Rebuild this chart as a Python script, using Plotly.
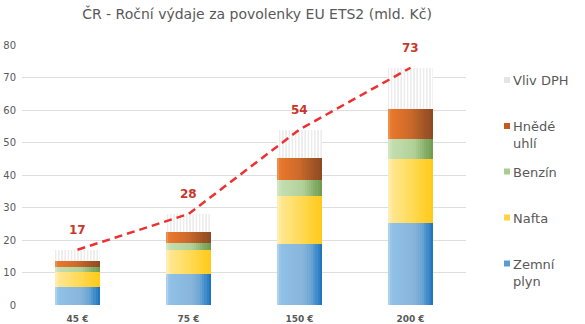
import plotly.graph_objects as go

# Data (mld. Kč) per allowance price
categories = ["45 €", "75 €", "150 €", "200 €"]
zemni_plyn = [5.6, 9.4, 18.8, 25.1]
nafta = [4.6, 7.5, 14.8, 19.8]
benzin = [1.4, 2.3, 4.8, 6.2]
hnede_uhli = [2.0, 3.4, 6.7, 9.1]
vliv_dph = [3.4, 5.4, 8.9, 12.8]

y_ticks = [0, 10, 20, 30, 40, 50, 60, 70, 80]

# Horizontal gradient stops (position, colour) for each fuel segment
gradients = {
    "Zemní plyn": [(0.0, "#b8d7f1"), (0.08, "#92c1e8"), (0.6, "#86b4da"), (0.78, "#6aa5d6"), (1.0, "#1872bd")],
    "Nafta": [(0.0, "#fff1bd"), (0.1, "#ffe690"), (0.55, "#ffda55"), (1.0, "#ffc919")],
    "Benzín": [(0.0, "#d6e8ca"), (0.1, "#c3deaf"), (0.6, "#b1d098"), (1.0, "#6d9a4c")],
    "Hnědé uhlí": [(0.0, "#f09a5a"), (0.08, "#e8772c"), (0.5, "#cc6a2a"), (1.0, "#8b4a22")],
}
legend_colors = {
    "Zemní plyn": "#5b9bd5",
    "Nafta": "#ffd23f",
    "Benzín": "#a9cd8f",
    "Hnědé uhlí": "#c55a1c",
}


def hex_to_rgb(h):
    h = h.lstrip("#")
    return tuple(int(h[i:i + 2], 16) for i in (0, 2, 4))


def gradient_color(stops, t):
    for (p0, c0), (p1, c1) in zip(stops, stops[1:]):
        if p0 <= t <= p1:
            f = (t - p0) / (p1 - p0) if p1 > p0 else 0
            a, b = hex_to_rgb(c0), hex_to_rgb(c1)
            r = [round(a[i] + (b[i] - a[i]) * f) for i in range(3)]
            return "rgb({},{},{})".format(*r)
    return stops[-1][1]


BAR_W = 0.4
SLICES = 22
slice_w = BAR_W / SLICES

fig = go.Figure()

series = [
    ("Zemní plyn", zemni_plyn),
    ("Nafta", nafta),
    ("Benzín", benzin),
    ("Hnědé uhlí", hnede_uhli),
]

base = [0.0] * len(categories)
for name, values in series:
    xs, ys, bases, cols = [], [], [], []
    for i, v in enumerate(values):
        for k in range(SLICES):
            t = (k + 0.5) / SLICES
            xs.append(i - BAR_W / 2 + (k + 0.5) * slice_w)
            ys.append(v)
            bases.append(base[i])
            cols.append(gradient_color(gradients[name], t))
    fig.add_trace(go.Bar(
        x=xs, y=ys, base=bases, width=slice_w * 1.15, name=name,
        marker=dict(color=cols, line=dict(width=0)),
        showlegend=False, hoverinfo="skip",
    ))
    base = [b + v for b, v in zip(base, values)]

subtotal = base[:]
totals = [s + d for s, d in zip(subtotal, vliv_dph)]

# VAT impact: thin vertical hatching on top of the stack
fig.add_trace(go.Bar(
    x=list(range(len(categories))), y=vliv_dph, base=subtotal, width=BAR_W,
    name="Vliv DPH",
    marker=dict(color="white", line=dict(width=0),
                pattern=dict(shape="|", fgcolor="#c9c9c9", bgcolor="white",
                             size=3.2, solidity=0.35)),
    showlegend=False,
))

# Dashed total line
fig.add_trace(go.Scatter(
    x=list(range(len(categories))), y=totals, mode="lines",
    line=dict(color="#ee3030", width=2.5, dash="8px,5px"),
    showlegend=False,
))

annotations = []
for i, tot in enumerate(totals):
    annotations.append(dict(
        x=i, y=tot, xref="x", yref="y", text=f"<b>{round(tot)}</b>",
        showarrow=False, yshift=20,
        font=dict(family="DejaVu Sans", size=12, color="#c8372d"),
    ))

# Legend drawn at the right edge
plot_left, plot_right, plot_top, plot_bottom = 22, 466, 45, 305


def px_x(px):
    return (px - plot_left) / (plot_right - plot_left)


def px_y(py):
    return (plot_bottom - py) / (plot_bottom - plot_top)


legend_items = [
    ("Vliv DPH", "#e4e4e4", 80),
    ("Hnědé<br>uhlí", legend_colors["Hnědé uhlí"], 126),
    ("Benzín", legend_colors["Benzín"], 171.5),
    ("Nafta", legend_colors["Nafta"], 217.5),
    ("Zemní<br>plyn", legend_colors["Zemní plyn"], 263.5),
]
shapes = []
for label, color, cy in legend_items:
    shapes.append(dict(
        type="rect", xref="paper", yref="paper",
        x0=px_x(504), x1=px_x(510), y0=px_y(cy + 3), y1=px_y(cy - 3),
        fillcolor=color, line=dict(width=0),
    ))
    annotations.append(dict(
        x=px_x(511), y=px_y(cy - 9), xref="paper", yref="paper",
        xanchor="left", yanchor="top", align="left", showarrow=False,
        text=label, font=dict(family="DejaVu Sans", size=13, color="#595959"),
    ))

fig.update_layout(
    width=585, height=324,
    margin=dict(l=plot_left, r=585 - plot_right, t=plot_top, b=324 - plot_bottom),
    paper_bgcolor="white", plot_bgcolor="white",
    barmode="overlay", bargap=0,
    title=dict(text="ČR - Roční výdaje za povolenky EU ETS2 (mld. Kč)",
               x=257 / 585, xanchor="center", y=1 - 14 / 324, yanchor="middle",
               font=dict(family="DejaVu Sans", size=14, color="#595959")),
    xaxis=dict(
        range=[-0.5, len(categories) - 0.5], automargin=False,
        tickvals=list(range(len(categories))), ticktext=[f"<b>{c}</b>" for c in categories],
        showgrid=False, zeroline=False, showline=False, ticks="",
        tickfont=dict(family="DejaVu Sans", size=9, color="#595959"),
        ticklabelstandoff=7,
    ),
    yaxis=dict(
        range=[0, 80], tickvals=y_ticks, showgrid=True, gridcolor="#dedede",
        gridwidth=1, zeroline=False, showline=False, ticks="", automargin=False,
        tickfont=dict(family="DejaVu Sans", size=10, color="#595959"),
        ticklabelstandoff=5,
    ),
    annotations=annotations,
    shapes=shapes,
    showlegend=False,
)

fig.write_html("out.html")
